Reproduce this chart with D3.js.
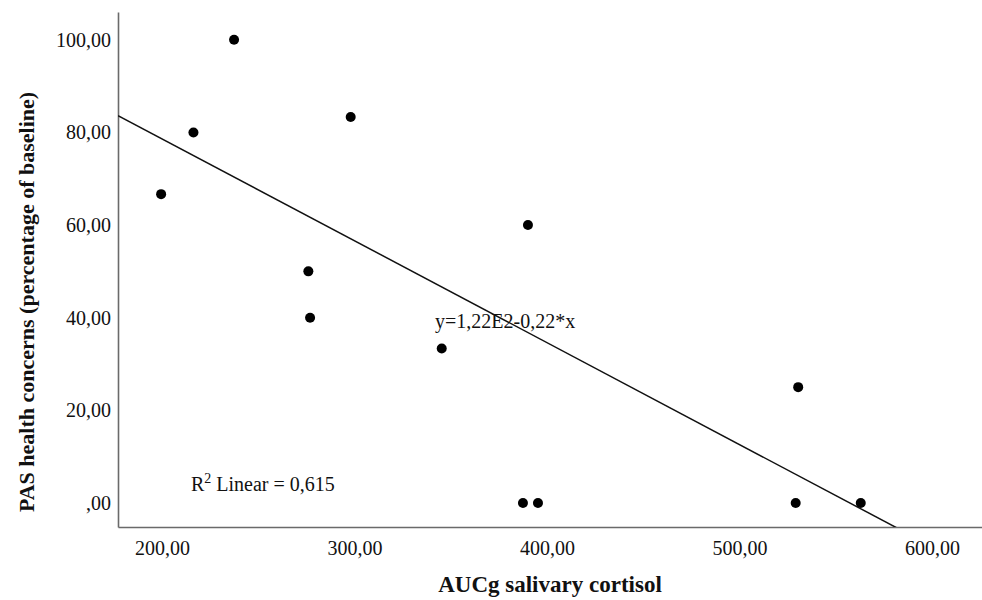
<!DOCTYPE html>
<html lang="en">
<head>
  <meta charset="UTF-8">
  <title>PAS health concerns vs AUCg salivary cortisol</title>
  <script src="https://d3js.org/d3.v7.min.js"></script>
  <style>
    body { margin: 0; background: #fff; }
    text { font-family: "Liberation Serif", "Times New Roman", serif; fill: #111; }
  </style>
</head>
<body>
  <div id="chart"></div>
  <script>
    // data
    const cortisol = [199.5, 216.3, 237.4, 298.0, 276.0, 276.9, 345.3, 390.1, 387.5, 395.3, 530.5, 529.2, 563.0];
    const pasHealth = [66.67, 80, 100, 83.33, 50, 40, 33.33, 60, 0, 0, 25, 0, 0];
    const xTicks = [200, 300, 400, 500, 600];
    const yTicks = [0, 20, 40, 60, 80, 100];
    // fit line as printed by SPSS: y = intercept + slope * x
    const fitCoef = [122.6, -0.22];
    const fitLabel = "y=1,22E2-0,22*x";
    const r2Label = "0,615";

    const width = 982;
    const height = 600;
    const margin = {top: 12, right: 0, bottom: 73, left: 118};

    const svg = d3.select("#chart")
      .append("svg")
      .attr("width", width)
      .attr("height", height);

    const x = d3.scaleLinear()
      .domain([177.1, 626])
      .range([margin.left, width - margin.right]);

    const y = d3.scaleLinear()
      .domain([-5.2, 106])
      .range([height - margin.bottom, margin.top]);

    const locale = d3.formatLocale({decimal: ",", thousands: ".", grouping: [3], currency: ["", ""]});
    const fmt = v => locale.format(".2f")(v).replace(/^0,/, ",");

    // clip for the fit line
    svg.append("clipPath").attr("id", "plot")
      .append("rect")
      .attr("x", margin.left)
      .attr("y", margin.top)
      .attr("width", width - margin.left - margin.right)
      .attr("height", height - margin.top - margin.bottom);

    // axes (no tick marks, just the lines and labels)
    const xAxis = svg.append("g")
      .attr("transform", "translate(0," + (height - margin.bottom) + ")")
      .call(d3.axisBottom(x).tickValues(xTicks).tickFormat(fmt).tickSize(0).tickPadding(14));

    const yAxis = svg.append("g")
      .attr("transform", "translate(" + margin.left + ",0)")
      .call(d3.axisLeft(y).tickValues(yTicks).tickFormat(fmt).tickSize(0).tickPadding(7));

    [xAxis, yAxis].forEach(g => {
      g.select(".domain").attr("stroke", "#6a6a6a").attr("stroke-width", 1.6);
      g.selectAll("text")
        .style("font-family", "'Liberation Serif', serif")
        .style("font-size", "20px")
        .attr("fill", "#222");
    });

    // fit line
    const xd = x.domain();
    svg.append("line")
      .attr("clip-path", "url(#plot)")
      .attr("x1", x(xd[0]))
      .attr("y1", y(fitCoef[0] + fitCoef[1] * xd[0]))
      .attr("x2", x(xd[1]))
      .attr("y2", y(fitCoef[0] + fitCoef[1] * xd[1]))
      .attr("stroke", "#111")
      .attr("stroke-width", 1.5);

    // points
    svg.selectAll("circle.pt")
      .data(cortisol.map((c, i) => [c, pasHealth[i]]))
      .enter()
      .append("circle")
      .attr("class", "pt")
      .attr("cx", d => x(d[0]))
      .attr("cy", d => y(d[1]))
      .attr("r", 5)
      .attr("fill", "#000");

    // annotations
    svg.append("text")
      .attr("x", 435)
      .attr("y", 328)
      .style("font-size", "20px")
      .text(fitLabel);

    const r2 = svg.append("text")
      .attr("x", 191)
      .attr("y", 491)
      .style("font-size", "20px");
    r2.append("tspan").text("R");
    r2.append("tspan").attr("dy", -8).style("font-size", "14px").text("2");
    r2.append("tspan").attr("dy", 8).text(" Linear = " + r2Label);

    // axis titles
    svg.append("text")
      .attr("x", (margin.left + width - margin.right) / 2)
      .attr("y", 592)
      .attr("text-anchor", "middle")
      .style("font-size", "23px")
      .style("font-weight", "bold")
      .text("AUCg salivary cortisol");

    svg.append("text")
      .attr("transform", "translate(34,302) rotate(-90)")
      .attr("text-anchor", "middle")
      .style("font-size", "22px")
      .style("font-weight", "bold")
      .text("PAS health concerns (percentage of baseline)");
  </script>
</body>
</html>
